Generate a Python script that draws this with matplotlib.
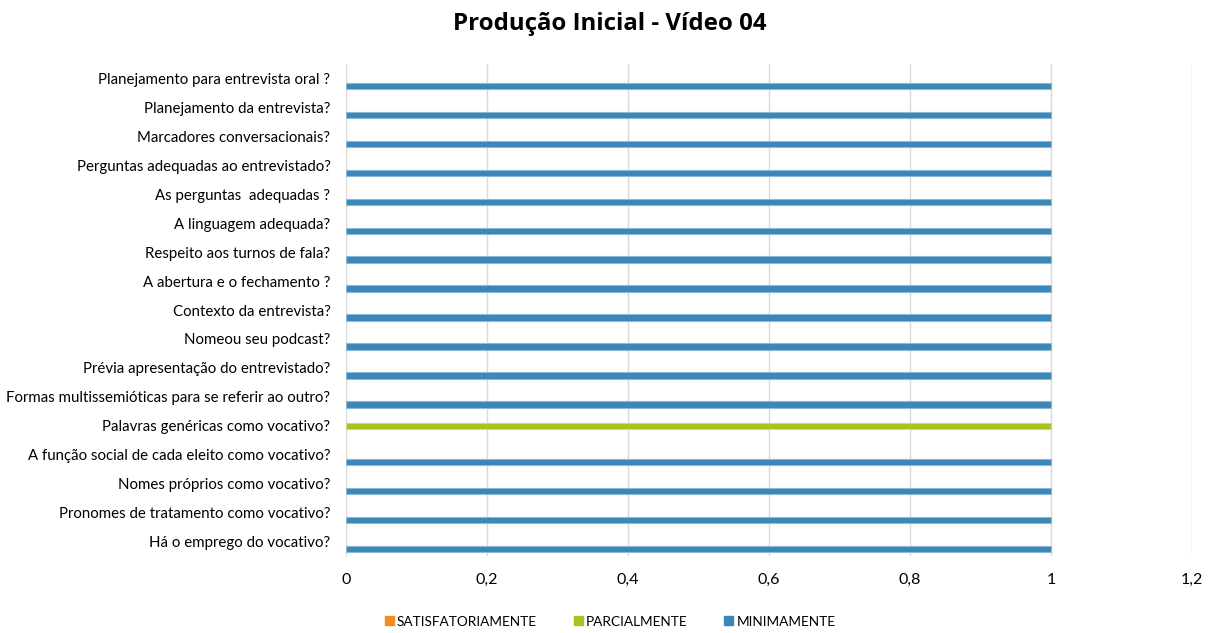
import numpy as np
import matplotlib.pyplot as plt
from matplotlib.patches import Patch

plt.rcParams['font.family'] = ['Lato', 'DejaVu Sans']

# categorias (de baixo para cima)
categorias = [
    'Há o emprego do vocativo?',
    'Pronomes de tratamento como vocativo?',
    'Nomes próprios como vocativo?',
    'A função social de cada eleito como vocativo?',
    'Palavras genéricas como vocativo?',
    'Formas multissemióticas para se referir ao outro?',
    'Prévia apresentação do entrevistado?',
    'Nomeou seu podcast?',
    'Contexto da entrevista?',
    'A abertura e o fechamento ?',
    'Respeito aos turnos de fala?',
    'A linguagem adequada?',
    'As perguntas  adequadas ?',
    'Perguntas adequadas ao entrevistado?',
    'Marcadores conversacionais?',
    'Planejamento da entrevista?',
    'Planejamento para entrevista oral ?',
]

satisfatoriamente = [0, 0, 0, 0, 0, 0, 0, 0, 0, 0, 0, 0, 0, 0, 0, 0, 0]
parcialmente =      [0, 0, 0, 0, 1, 0, 0, 0, 0, 0, 0, 0, 0, 0, 0, 0, 0]
minimamente =       [1, 1, 1, 1, 0, 1, 1, 1, 1, 1, 1, 1, 1, 1, 1, 1, 1]

series = ['SATISFATORIAMENTE', 'PARCIALMENTE', 'MINIMAMENTE']
cores = ['#F58A1F', '#A9C21F', '#3A87B8']
bordas = ['#F9B877', '#CADB7A', '#8DB9D6']

fig = plt.figure(figsize=(12.13, 6.33), dpi=100)
ax = fig.add_axes([0.285, 0.1216, 0.6977, 0.7773])

y = np.arange(len(categorias))
h = 0.22
desloc = 0.26
# azul embaixo, verde no meio, laranja em cima
for vals, cor, borda, off in zip([satisfatoriamente, parcialmente, minimamente],
                                  cores, bordas, [desloc, 0, -desloc]):
    lw = [0.8 if v > 0 else 0 for v in vals]
    ax.barh(y + off, vals, height=h, color=cor, edgecolor=borda, linewidth=lw, zorder=3)

ax.set_xlim(0, 1.2)
ax.set_ylim(-0.5, len(categorias) - 0.5)
ax.set_xticks(np.arange(0, 1.21, 0.2))
ax.set_xticklabels(['0', '0,2', '0,4', '0,6', '0,8', '1', '1,2'])
ax.set_yticks(y)
ax.set_yticklabels(categorias)
ax.tick_params(axis='both', length=0, colors='#000000')
ax.tick_params(axis='x', pad=12, labelsize=11.5)
ax.tick_params(axis='y', pad=11, labelsize=10.8)
ax.grid(axis='x', color='#D9D9D9', linewidth=1, zorder=0)
for s in ['top', 'right', 'bottom']:
    ax.spines[s].set_visible(False)
ax.spines['left'].set_color('#D9D9D9')

fig.text(0.503, 0.962, 'Produção Inicial - Vídeo 04', ha='center', va='center',
         fontsize=17.3, fontweight='bold', family=['Open Sans', 'DejaVu Sans'])

handles = [Patch(facecolor=c, edgecolor=c, label=s) for s, c in zip(series, cores)]
fig.legend(handles=handles, loc='center', bbox_to_anchor=(0.503, 0.018), ncol=3,
           frameon=False, fontsize=9.8, handlelength=0.65, handleheight=0.65,
           handletextpad=0.25, columnspacing=2.7)

plt.savefig('out.png', dpi=100, facecolor='white')
